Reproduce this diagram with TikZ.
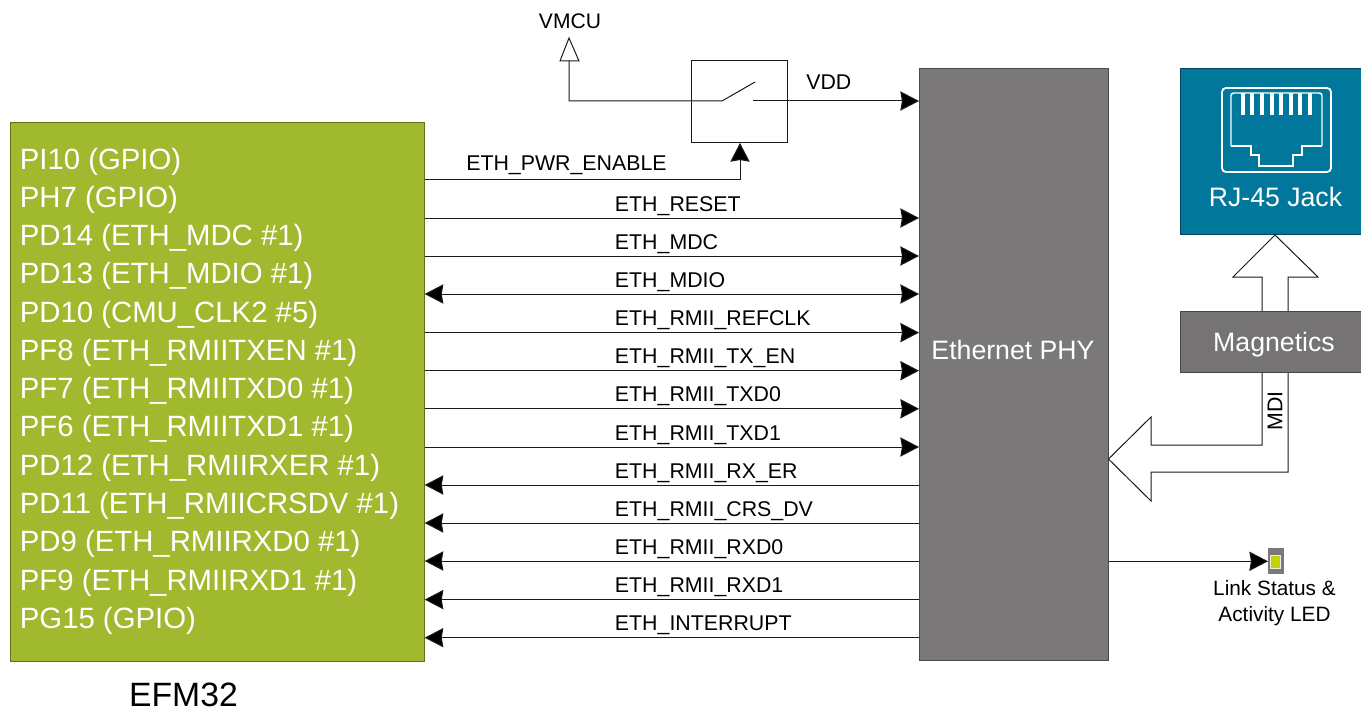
\documentclass[tikz,border=0pt]{standalone}
\usepackage{fontspec}
\setmainfont{Liberation Sans}
\usetikzlibrary{arrows.meta}
\definecolor{mcugreen}{HTML}{A1B92E}
\definecolor{phygrey}{HTML}{7A7879}
\definecolor{jackteal}{HTML}{00779B}
\definecolor{maggrey}{HTML}{757374}
\definecolor{ledyellow}{HTML}{C2D500}
\definecolor{linec}{HTML}{1A1A1A}
\tikzset{
  x=0.75pt,y=-0.75pt,
  tip/.tip={Stealth[length=14pt,width=14.5pt,inset=1.2pt,fill=black]},
  sig/.style={draw=linec,line width=0.75pt,-tip},
  bisig/.style={draw=linec,line width=0.75pt,tip-tip},
  sigplain/.style={draw=linec,line width=0.75pt},
  box/.style={draw=#1!60!black,fill=#1,line width=0.8pt,minimum width=0pt,minimum height=0pt,inner sep=0pt},
  pinlab/.style={anchor=base west,text=white,font=\fontsize{22}{26}\selectfont,inner sep=0pt},
  siglab/.style={anchor=base west,text=black,font=\fontsize{16}{19}\selectfont,inner sep=0pt},
  whitelab/.style={text=white,inner sep=0pt,font=\fontsize{20}{24}\selectfont},
  blockarrow/.style={draw=linec,line width=0.75pt,fill=white,line join=miter},
}
\begin{document}
\begin{tikzpicture}
\useasboundingbox (0,0) rectangle (1361,710);
% main boxes
\node[box=mcugreen,anchor=north west,minimum width=310.5pt,minimum height=404pt] (mcu) at (9.6,122) {};
\node[box=phygrey,anchor=north west,minimum width=142pt,minimum height=444.5pt] (phy) at (919,67.7) {};
\node[whitelab] (phylab) at (1013,350) {Ethernet PHY};
\node[box=jackteal,anchor=north west,minimum width=136pt,minimum height=124.7pt] (jack) at (1180,67.7) {};
\node[whitelab] (jacklab) at (1275.5,197) {RJ-45 Jack};
% block arrows
\draw[blockarrow] (1275,235) -- (1318,277) -- (1288,277) -- (1288,312) -- (1262,312) -- (1262,277) -- (1233,277) -- cycle;
\draw[blockarrow] (1108.5,459) -- (1151,417) -- (1151,445) -- (1262,445) -- (1262,371) -- (1288,371) -- (1288,472) -- (1151,472) -- (1151,501) -- cycle;
\node[box=maggrey,anchor=north west,minimum width=137pt,minimum height=45.75pt] (mag) at (1180,311) {};
\node[whitelab] (maglab) at (1274,344.5) {Magnetics};
\node[rotate=90,inner sep=0pt,font=\fontsize{16}{18}\selectfont] (mdi) at (1275,411) {MDI};
% RJ-45 icon
\draw[white,line width=1.4pt,rounded corners=3pt] (1222,88) rectangle (1331,172);
\draw[white,line width=1.1pt,rounded corners=2pt] (1231,146) -- (1231,93) -- (1322,93) -- (1322,146);
\draw[white,line width=1.1pt] (1231,146) -- (1251,146) -- (1251,155) -- (1259,155) -- (1259,166) -- (1293,166) -- (1293,155) -- (1302,155) -- (1302,146) -- (1322,146);
\foreach \px in {1143,1152,1162,1172,1181,1191,1200,1210}{
  \fill[white] ({\px+98},93) rectangle ({\px+102},115);
}
% switch
\node[draw=linec,line width=0.75pt,anchor=north west,minimum width=72pt,minimum height=61.5pt,inner sep=0pt] (sw) at (691,60) {};
\coordinate (vmcubase) at (569,61);
\coordinate (swa) at (722,101);
\coordinate (swb) at (755,82);
\coordinate (swc) at (753,101);
\draw[sigplain,fill=white] (569,38) -- (579,61) -- (560,61) -- cycle;
\draw[sigplain] (vmcubase) |- (swa) -- (swb);
\draw[sig] (swc) -- (phy.west |- swc);
\node[anchor=base,inner sep=0pt,font=\fontsize{15.8}{18}\selectfont] (vmcu) at (570,29) {VMCU};
\node[anchor=base west,inner sep=0pt,font=\fontsize{16}{18}\selectfont] (vdd) at (806,89.5) {VDD};
\coordinate (pwr) at (740,179);
\draw[sig] (mcu.east |- pwr) -- (pwr) -- (sw.south -| pwr);
\node[siglab] (lpwr) at (466,171) {ETH\_PWR\_ENABLE};
% signals
\foreach \yy/\txt/\sty in {
  218/ETH\_RESET/sig,
  256/ETH\_MDC/sig,
  294/ETH\_MDIO/bisig,
  332.6/ETH\_RMII\_REFCLK/sig,
  370.7/ETH\_RMII\_TX\_EN/sig,
  408.8/ETH\_RMII\_TXD0/sig,
  447/ETH\_RMII\_TXD1/sig}{
  \draw[\sty] (mcu.east |- 0,\yy) -- (phy.west |- 0,\yy);
  \node[siglab] at (614.7,{\yy-7}) {\txt};
}
\foreach \yy/\txt in {
  485/ETH\_RMII\_RX\_ER,
  523/ETH\_RMII\_CRS\_DV,
  561/ETH\_RMII\_RXD0,
  599.6/ETH\_RMII\_RXD1,
  637.7/ETH\_INTERRUPT}{
  \draw[sig] (phy.west |- 0,\yy) -- (mcu.east |- 0,\yy);
  \node[siglab] at (614.7,{\yy-7}) {\txt};
}
% pin labels
\foreach \yy/\txt in {
  169/PI10 (GPIO),
  207/PH7 (GPIO),
  245/PD14 (ETH\_MDC \#1),
  283.5/PD13 (ETH\_MDIO \#1),
  322/PD10 (CMU\_CLK2 \#5),
  360/PF8 (ETH\_RMIITXEN \#1),
  398/PF7 (ETH\_RMIITXD0 \#1),
  436/PF6 (ETH\_RMIITXD1 \#1),
  475/PD12 (ETH\_RMIIRXER \#1),
  513/PD11 (ETH\_RMIICRSDV \#1),
  551/PD9 (ETH\_RMIIRXD0 \#1),
  590/PF9 (ETH\_RMIIRXD1 \#1),
  628/PG15 (GPIO)}{
  \node[pinlab] at (19.6,\yy) {\txt};
}
\node[anchor=base,inner sep=0pt,font=\fontsize{25.3}{28}\selectfont] (efm) at (183.5,706) {EFM32};
% LED
\node[fill=phygrey,anchor=north west,minimum width=11.5pt,minimum height=19.5pt,inner sep=0pt] (led) at (1268,548) {};
\node[draw=white!85!phygrey,fill=ledyellow,line width=0.5pt,minimum width=7.5pt,minimum height=10pt,inner sep=0pt] (ledin) at (1275.5,561.5) {};
\draw[sig] (phy.east |- led.west) -- (led.west);
\node[align=center,inner sep=0pt,font=\fontsize{15.6}{19.5}\selectfont] (ledlab) at (1274.5,603) {Link Status \&\\Activity LED};
\end{tikzpicture}
\end{document}
